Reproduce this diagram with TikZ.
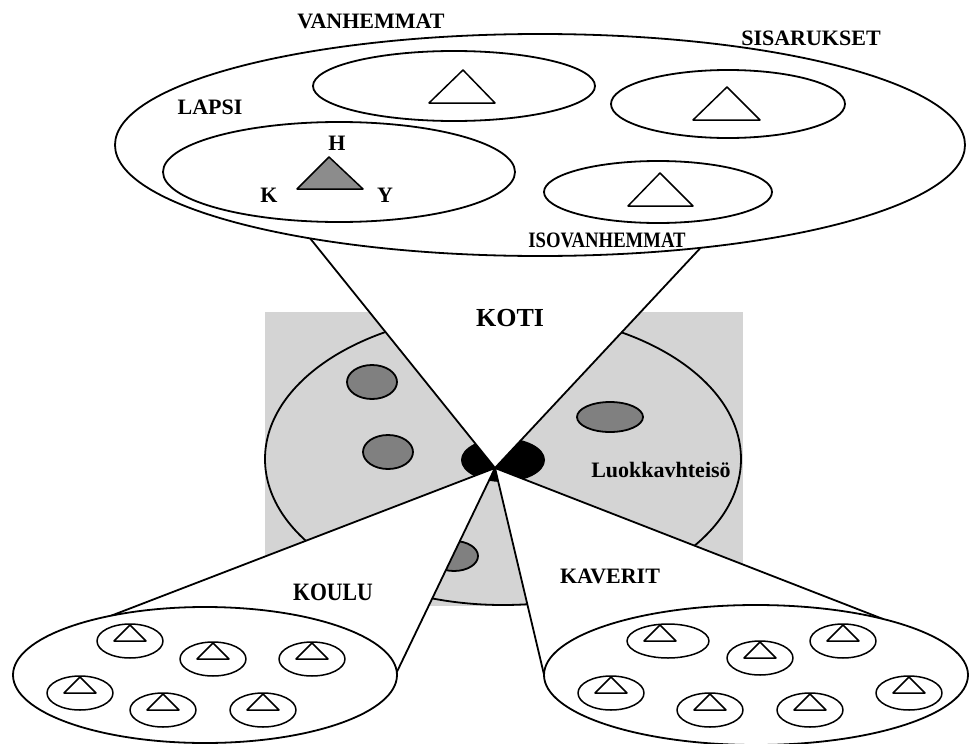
\documentclass[tikz,border=0pt]{standalone}
\usepackage{graphicx}
\usepackage{fontspec}
\setmainfont{Liberation Serif}
\begin{document}
\begin{tikzpicture}[x=1pt, y=-1pt, line join=round,
    edge/.style={draw, line width=1.8pt},
    bubble/.style={draw, fill=white, line width=1.8pt},
    spot/.style={draw, fill=black!50, line width=1.8pt},
    member/.style={draw, fill=white, line width=1.5pt},
    tag/.style={font=\bfseries\fontsize{22}{24}\selectfont, inner sep=0pt}]
  \useasboundingbox (0,0) rectangle (978,744);
  % Classroom community (grey)
  \fill[black!17] (265,312) rectangle (743,606);
  \draw[edge, fill=black!17] (503,459) ellipse [x radius=238, y radius=146];
  \draw[spot] (372,382) ellipse [x radius=25, y radius=17];
  \draw[spot] (388,452) ellipse [x radius=25, y radius=17];
  \draw[spot] (610,417) ellipse [x radius=33, y radius=15];
  \draw[spot] (454,556) ellipse [x radius=24, y radius=15];
  \fill (503,460) ellipse [x radius=42, y radius=22];
  \node[tag] (luokka) at (661,470) {Luokkavhteisö};
  % Cones out of the centre
  \coordinate (centre) at (495,468);
  \coordinate (kotiL) at (305,232);
  \coordinate (kotiR) at (706,242);
  \coordinate (kouluL) at (100,620);
  \coordinate (kouluR) at (393,680);
  \coordinate (kaveritL) at (546,683);
  \coordinate (kaveritR) at (883,619);
  \draw[bubble] (centre) -- (kotiL) -- (kotiR) -- cycle;
  \draw[bubble] (centre) -- (kouluL) -- (kouluR) -- cycle;
  \draw[bubble] (centre) -- (kaveritL) -- (kaveritR) -- cycle;
  \node[tag, font=\bfseries\fontsize{26}{28}\selectfont] (koti) at (510,318) {KOTI};
  \node[tag, font=\bfseries\fontsize{25}{27}\selectfont] (koulu) at (333,592) {\scalebox{0.87}[1]{KOULU}};
  \node[tag] (kaverit) at (610,576) {KAVERIT};
  % Home
  \draw[bubble] (540,145) ellipse [x radius=425, y radius=111];
  \draw[bubble] (454,86) ellipse [x radius=141, y radius=35];
  \draw[bubble] (728,104) ellipse [x radius=117, y radius=34];
  \draw[bubble] (339,172) ellipse [x radius=176, y radius=50];
  \draw[bubble] (658,192) ellipse [x radius=114, y radius=31];
  \draw[member] (463,70) -- (429,103) -- (495,103) -- cycle;
  \draw[member] (727,87) -- (693,120) -- (760,120) -- cycle;
  \draw[member] (660,173) -- (628,206) -- (693,206) -- cycle;
  \draw[member, fill=black!45] (329,157) -- (297,189) -- (363,189) -- cycle;
  \node[tag] (vanhemmat) at (371,21) {VANHEMMAT};
  \node[tag] (sisarukset) at (811,38) {SISARUKSET};
  \node[tag] (lapsi) at (210,107) {LAPSI};
  \node[tag] (h) at (337,143) {H};
  \node[tag] (k) at (269,195) {K};
  \node[tag] (y) at (385,195) {Y};
  \node[tag] (isovanhemmat) at (607,240) {\scalebox{0.85}[1]{ISOVANHEMMAT}};
  % School and friends
  \draw[bubble] (205,675) ellipse [x radius=192, y radius=68];
  \draw[bubble] (756,675) ellipse [x radius=212, y radius=70];
  \foreach \x/\y in {130/641, 213/659, 312/659, 80/693, 163/710, 263/710,
                     760/658, 843/641, 611/693, 710/710, 810/710, 909/693} {
    \draw[member] (\x,\y) ellipse [x radius=33, y radius=17];
    \draw[member] (\x,\y-16) -- (\x-16,\y) -- (\x+16,\y) -- cycle;
  }
  \draw[member] (668,641) ellipse [x radius=41, y radius=17];
  \draw[member] (660,625) -- (644,641) -- (676,641) -- cycle;
\end{tikzpicture}
\end{document}
